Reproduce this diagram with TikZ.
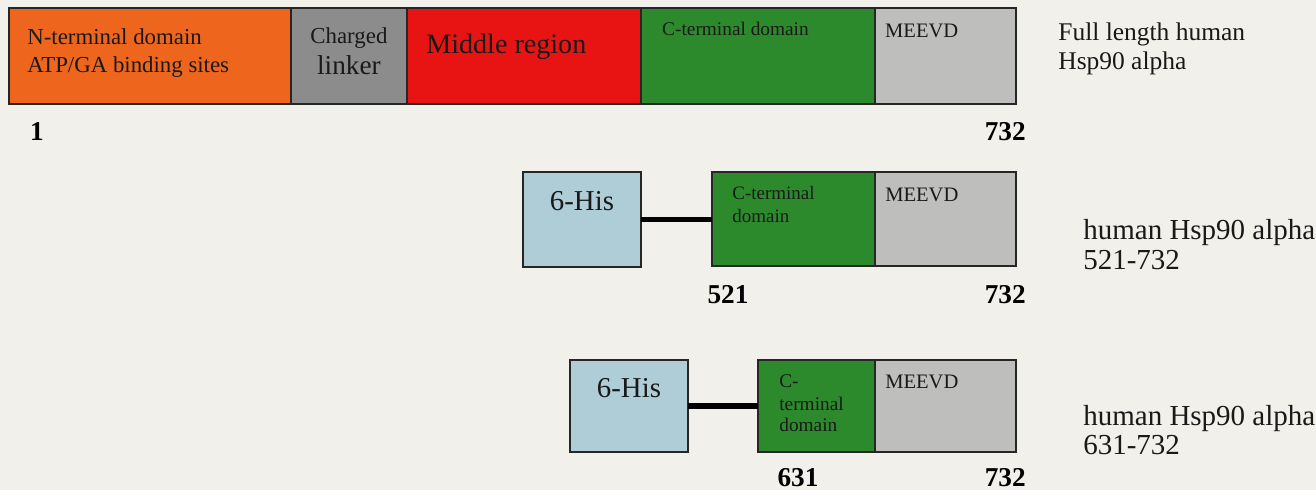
\documentclass[tikz,border=0pt]{standalone}
\usepackage{fontspec}
\setmainfont{Liberation Serif}
\usepackage{tikz}
\usetikzlibrary{calc,positioning}
\usepackage{xcolor}

\definecolor{paper}{RGB}{242,240,234}
\definecolor{ntorange}{RGB}{238,102,30}
\definecolor{linkgray}{RGB}{140,140,140}
\definecolor{midred}{RGB}{232,20,20}
\definecolor{ctgreen}{RGB}{44,138,44}
\definecolor{meevdgray}{RGB}{190,190,188}
\definecolor{hisblue}{RGB}{175,205,214}

\begin{document}
\begin{tikzpicture}[x=0.02cm,y=-0.02cm]
    \tikzstyle{box}=[draw=black!85,line width=0.8pt,inner sep=0,outer sep=0,anchor=north west]
    \tikzstyle{txt}=[anchor=base west,inner sep=0,text=black!90]
    \tikzstyle{num}=[anchor=base,inner sep=0,font=\bfseries\fontsize{15.5}{18}\selectfont]
    \tikzstyle{tether}=[line width=3.4pt,black]

    % page
    \fill[paper] (0,0) rectangle (1316,490);
    \useasboundingbox (0,0) rectangle (1316,490);

    % full length protein
    \node(nt)[box,fill=ntorange,minimum width=5.64cm,minimum height=1.92cm] at (9,8) {};
    \node(cl)[box,fill=linkgray,minimum width=2.32cm,minimum height=1.92cm,right=0pt of nt] {};
    \node(mr)[box,fill=midred,minimum width=4.68cm,minimum height=1.92cm,right=0pt of cl] {};
    \node(ct)[box,fill=ctgreen,minimum width=4.68cm,minimum height=1.92cm,right=0pt of mr] {};
    \node(me)[box,fill=meevdgray,minimum width=2.82cm,minimum height=1.92cm,right=0pt of ct] {};

    \node(nt1)[txt,font=\fontsize{13}{15}\selectfont] at ($(nt.north west)+(18,36)$) {N-terminal domain};
    \node(nt2)[txt,font=\fontsize{13}{15}\selectfont] at ($(nt.north west)+(18,64)$) {ATP/GA binding sites};
    \node(cl1)[txt,anchor=base,font=\fontsize{13}{15}\selectfont] at ($(cl.north)+(0,35)$) {Charged};
    \node(cl2)[txt,anchor=base,font=\fontsize{15.5}{18}\selectfont] at ($(cl.north)+(0,66)$) {linker};
    \node(mr1)[txt,font=\fontsize{16}{19}\selectfont] at ($(mr.north west)+(19,45)$) {Middle region};
    \node(ct0)[txt,font=\fontsize{11}{13}\selectfont] at ($(ct.north west)+(21,27)$) {C-terminal domain};
    \node(me0)[txt,font=\fontsize{11.7}{14}\selectfont] at ($(me.north west)+(10,29)$) {MEEVD};

    \node(n1)[num] at (37,140) {1};
    \node(n732)[num,anchor=base east] at (1026,140) {732};

    \node(fl1)[txt,font=\fontsize{14.5}{17}\selectfont] at (1058,40) {Full length human};
    \node(fl2)[txt,font=\fontsize{14.5}{17}\selectfont] at (1058,70) {Hsp90 alpha};

    % construct 521-732
    \node(his1)[box,fill=hisblue,minimum width=2.36cm,minimum height=1.9cm] at (523,172) {};
    \node(ct1)[box,fill=ctgreen,minimum width=3.26cm,minimum height=1.88cm] at (712,172) {};
    \node(me1)[box,fill=meevdgray,minimum width=2.82cm,minimum height=1.88cm,right=0pt of ct1] {};
    \draw[tether] (his1.east) -- (his1.east -| ct1.west);

    \node(hs1)[txt,anchor=base,font=\fontsize{16.4}{19}\selectfont] at ($(his1.north)+(0,38)$) {6-His};
    \node(ct1a)[txt,font=\fontsize{10.8}{13}\selectfont] at ($(ct1.north west)+(20,27)$) {C-terminal};
    \node(ct1b)[txt,font=\fontsize{10.8}{13}\selectfont] at ($(ct1.north west)+(20,50)$) {domain};
    \node(me1a)[txt,font=\fontsize{11.7}{14}\selectfont] at ($(me1.north west)+(10,29)$) {MEEVD};

    \node(n521)[num] at (728,303) {521};
    \node(n732b)[num,anchor=base east] at (1026,303) {732};

    \node(c1a)[txt,font=\fontsize{16.5}{19}\selectfont] at (1083,239) {human Hsp90 alpha};
    \node(c1b)[txt,font=\fontsize{16.5}{19}\selectfont] at (1083,269) {521-732};

    % construct 631-732
    \node(his2)[box,fill=hisblue,minimum width=2.36cm,minimum height=1.84cm] at (570,360) {};
    \node(ct2)[box,fill=ctgreen,minimum width=2.34cm,minimum height=1.84cm] at (758,360) {};
    \node(me2)[box,fill=meevdgray,minimum width=2.82cm,minimum height=1.84cm,right=0pt of ct2] {};
    \draw[tether] (his2.east) -- (his2.east -| ct2.west);

    \node(hs2)[txt,anchor=base,font=\fontsize{16.4}{19}\selectfont] at ($(his2.north)+(0,37)$) {6-His};
    \node(ct2a)[txt,font=\fontsize{11}{13}\selectfont] at ($(ct2.north west)+(21,27)$) {C-};
    \node(ct2b)[txt,font=\fontsize{11}{13}\selectfont] at ($(ct2.north west)+(21,50)$) {terminal};
    \node(ct2c)[txt,font=\fontsize{11}{13}\selectfont] at ($(ct2.north west)+(21,71)$) {domain};
    \node(me2a)[txt,font=\fontsize{11.7}{14}\selectfont] at ($(me2.north west)+(10,28)$) {MEEVD};

    \node(n631)[num] at (798,486) {631};
    \node(n732c)[num,anchor=base east] at (1026,486) {732};

    \node(c2a)[txt,font=\fontsize{16.5}{19}\selectfont] at (1083,425) {human Hsp90 alpha};
    \node(c2b)[txt,font=\fontsize{16.5}{19}\selectfont] at (1083,454) {631-732};
\end{tikzpicture}
\end{document}
